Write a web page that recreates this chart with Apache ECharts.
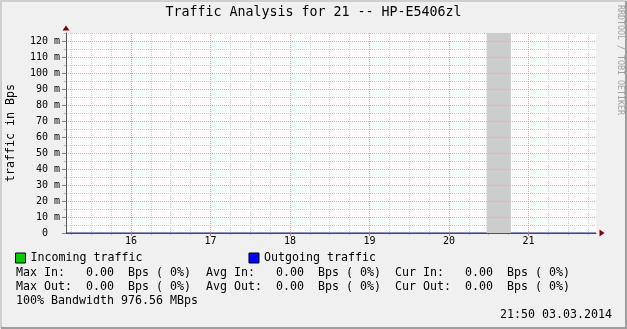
<!DOCTYPE html>
<html>
<head>
<meta charset="utf-8">
<script src="https://cdn.jsdelivr.net/npm/echarts@6/dist/echarts.min.js"></script>
<style>
html,body{margin:0;padding:0;background:#f0f0f0;}
#chart{width:627px;height:329px;}
</style>
</head>
<body>
<div id="chart"></div>
<script>
// ---- data ----
const chartTitle = 'Traffic Analysis for 21 -- HP-E5406zl';
const yAxisTitle = 'traffic in Bps';
const watermark = 'RRDTOOL / TOBI OETIKER';
const timestampText = '21:50 03.03.2014';
const bandwidthText = '100% Bandwidth 976.56 MBps';

// x axis in hours of the day (15:11 .. 21:51)
const xStart = 15 + 11 / 60;
const xEnd = 21 + 51 / 60;
const hourTicks = [16, 17, 18, 19, 20, 21];
const hourLabels = ['16', '17', '18', '19', '20', '21'];
const quarterTicks = [15.25, 15.5, 15.75, 16.25, 16.5, 16.75, 17.25, 17.5, 17.75,
  18.25, 18.5, 18.75, 19.25, 19.5, 19.75, 20.25, 20.5, 20.75, 21.25, 21.5, 21.75];

// y axis (milli-bytes per second)
const yMax = 125;
const yMajorTicks = [0, 10, 20, 30, 40, 50, 60, 70, 80, 90, 100, 110, 120];
const yMajorLabels = ['0  ', '10 m', '20 m', '30 m', '40 m', '50 m', '60 m', '70 m', '80 m', '90 m', '100 m', '110 m', '120 m'];
const yMinorTicks = [5, 15, 25, 35, 45, 55, 65, 75, 85, 95, 105, 115, 125];

// series samples (time in hours, value in Bps); null = unknown
const sampleTimes = [15.1833, 20.475, 20.63, 20.78, 21.85];
const incomingValues = [0, 0, null, 0, 0];
const outgoingValues = [0, 0, null, 0, 0];
const unknownRanges = [[20.475, 20.78]];

const seriesNames = ['Incoming traffic', 'Outgoing traffic'];

// statistics
const inStatLabels = ['Max In:', 'Avg In:', 'Cur In:'];
const inStatValues = [0, 0, 0];
const inStatPct = [0, 0, 0];
const outStatLabels = ['Max Out:', 'Avg Out:', 'Cur Out:'];
const outStatValues = [0, 0, 0];
const outStatPct = [0, 0, 0];

// ---- styling ----
const MONO = "'DejaVu Sans Mono', monospace";
const legendFont = '11.63px ' + MONO;
const minorGrid = '#cccccc';
const majorGrid = '#eca4a4';
const arrowColor = '#7f0000';
const axisColor = '#555555';

function statText(label, value, pct) {
  return label.padEnd(10, ' ') + value.toFixed(2) + '  Bps (' + String(pct).padStart(2, ' ') + '%)';
}

const statCols = [16, 206, 395];
const graphics = [];
// 3D frame
graphics.push({type: 'polyline', silent: true, shape: {points: [[1, 328], [1, 1], [626, 1]]}, style: {stroke: '#cfcfcf', lineWidth: 2, fill: null}});
graphics.push({type: 'polyline', silent: true, shape: {points: [[1, 328], [626, 328], [626, 1]]}, style: {stroke: '#9e9e9e', lineWidth: 2, fill: null}});
inStatLabels.forEach((l, i) => {
  graphics.push({type: 'text', x: statCols[i], y: 273, style: {text: statText(l, inStatValues[i], inStatPct[i]), font: legendFont, fill: '#000', align: 'left', verticalAlign: 'middle'}});
});
outStatLabels.forEach((l, i) => {
  graphics.push({type: 'text', x: statCols[i], y: 287, style: {text: statText(l, outStatValues[i], outStatPct[i]), font: legendFont, fill: '#000', align: 'left', verticalAlign: 'middle'}});
});
graphics.push({type: 'text', x: 16, y: 301, style: {text: bandwidthText, font: legendFont, fill: '#000', align: 'left', verticalAlign: 'middle'}});
graphics.push({type: 'text', x: 612, y: 315, style: {text: timestampText, font: legendFont, fill: '#000', align: 'right', verticalAlign: 'middle'}});
graphics.push({type: 'text', x: 620, y: 60, rotation: -Math.PI / 2, style: {text: watermark, font: '8.3px ' + MONO, fill: '#a0a0a0', align: 'center', verticalAlign: 'middle'}});

const chart = echarts.init(document.getElementById('chart'), null, {renderer: 'canvas', devicePixelRatio: 1});

const xCommon = {type: 'value', min: xStart, max: xEnd, gridIndex: 0, position: 'bottom'};
const yCommon = {type: 'value', min: 0, max: yMax, gridIndex: 0, position: 'left'};

chart.setOption({
  animation: false,
  backgroundColor: '#f0f0f0',
  title: {
    text: chartTitle, left: 'center', top: 6, padding: 0,
    textStyle: {fontFamily: MONO, fontSize: 13.3, fontWeight: 'normal', color: '#000'}
  },
  legend: {
    data: seriesNames, left: 15, top: 252, padding: 0, itemGap: 106,
    itemWidth: 10, itemHeight: 10, icon: 'rect', selectedMode: false,
    itemStyle: {borderColor: '#000', borderWidth: 1},
    textStyle: {fontFamily: MONO, fontSize: 11.63, color: '#000', padding: [0, 0, 0, 0]}
  },
  grid: {left: 66, right: 31, top: 33, bottom: 96, show: true, backgroundColor: '#ffffff', borderWidth: 0,
    containLabel: false, outerBoundsMode: 'none'},
  xAxis: [
    Object.assign({}, xCommon, {
      z: 3,
      axisLine: {show: true, onZero: false, lineStyle: {color: axisColor, width: 1}},
      axisTick: {show: true, customValues: hourTicks, length: 3, lineStyle: {color: '#e07070'}},
      axisLabel: {show: true, customValues: hourTicks, margin: 3, fontFamily: MONO, fontSize: 10, color: '#000',
        formatter: v => hourLabels[hourTicks.indexOf(Math.round(v))] || ''},
      splitLine: {show: true, lineStyle: {color: majorGrid, type: [1, 1], width: 1}}
    }),
    Object.assign({}, xCommon, {
      z: 2,
      axisLine: {show: true, onZero: false, symbol: ['none', 'triangle'], symbolSize: [7, 5], symbolOffset: [0, 6],
        lineStyle: {color: arrowColor, width: 0}},
      axisTick: {show: true, customValues: quarterTicks, length: 2, lineStyle: {color: '#bbbbbb'}},
      axisLabel: {show: false},
      splitLine: {show: true, lineStyle: {color: minorGrid, type: [1, 1], width: 1}}
    })
  ],
  yAxis: [
    Object.assign({}, yCommon, {
      z: 3,
      name: yAxisTitle, nameLocation: 'middle', nameGap: 49, nameRotate: 90,
      nameTextStyle: {fontFamily: MONO, fontSize: 11.63, color: '#000'},
      axisLine: {show: true, onZero: false, lineStyle: {color: axisColor, width: 1}},
      axisTick: {show: true, customValues: yMajorTicks, length: 4, lineStyle: {color: '#888888'}},
      axisLabel: {show: true, customValues: yMajorTicks, margin: 6, fontFamily: MONO, fontSize: 10, color: '#000',
        formatter: v => yMajorLabels[yMajorTicks.indexOf(Math.round(v))] || ''},
      splitLine: {show: true, lineStyle: {color: majorGrid, type: [1, 1], width: 1}}
    }),
    Object.assign({}, yCommon, {
      z: 2,
      axisLine: {show: true, onZero: false, symbol: ['none', 'triangle'], symbolSize: [7, 5], symbolOffset: [0, 5],
        lineStyle: {color: arrowColor, width: 0}},
      axisTick: {show: true, customValues: yMinorTicks, length: 2, lineStyle: {color: '#bbbbbb'}},
      axisLabel: {show: false},
      splitLine: {show: true, lineStyle: {color: minorGrid, type: [1, 1], width: 1}}
    })
  ],
  series: [
    {
      name: 'unknown', type: 'line', xAxisIndex: 0, yAxisIndex: 0, z: 1, silent: true,
      data: [], symbol: 'none',
      markArea: {
        silent: true,
        itemStyle: {color: '#cccccc', opacity: 1, borderWidth: 0},
        data: unknownRanges.map(r => [{xAxis: r[0]}, {xAxis: r[1]}])
      }
    },
    {
      name: seriesNames[0], type: 'line', xAxisIndex: 0, yAxisIndex: 0, z: 5,
      data: sampleTimes.map((t, i) => [t, incomingValues[i]]),
      symbol: 'none', connectNulls: false,
      itemStyle: {color: '#00cc00'},
      lineStyle: {color: '#00cc00', width: 0},
      areaStyle: {color: '#00cc00', opacity: 1}
    },
    {
      name: seriesNames[1], type: 'line', xAxisIndex: 0, yAxisIndex: 0, z: 6,
      data: sampleTimes.map((t, i) => [t, outgoingValues[i]]),
      symbol: 'none', connectNulls: false,
      itemStyle: {color: '#0000ff'},
      lineStyle: {color: '#20207a', width: 1}
    }
  ],
  graphic: graphics
});
</script>
</body>
</html>
